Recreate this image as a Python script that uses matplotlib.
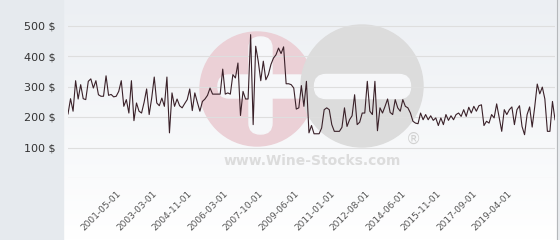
#Librerías
import numpy as np
import matplotlib.pyplot as plt
from matplotlib.patches import Circle, FancyBboxPatch, Rectangle

#Datos: precio por fecha
precios_1 = [210, 260, 219, 319, 259, 306, 260, 257, 317, 325, 295, 319, 273, 268,
             268, 335, 271, 274, 266, 268, 284, 319, 235, 257, 213, 319, 188, 246,
             219, 213, 248, 292, 208, 262, 331, 246, 237, 262, 235, 331, 148, 279,
             235, 259, 237, 230, 244, 257, 292, 221, 279, 248, 219, 251, 259, 271,
             295, 275, 275, 275, 275, 357, 275, 279, 275, 339, 328, 377, 205, 284,
             259, 259, 470, 175, 432, 383, 319, 383, 322, 339, 372, 393]
precios_2 = [404, 426, 408, 430, 309, 309, 306, 295, 226, 230, 303, 235, 317, 148,
             172, 145, 145, 145, 164, 224, 230, 224, 175, 153, 153, 153, 166, 230,
             169, 191, 204, 273, 175, 183, 213, 213, 317, 219, 208, 317, 155, 230,
             213, 235, 259, 215, 208, 257, 230, 219, 257, 235, 230, 213, 186, 180,
             178, 213, 191, 208, 191, 204, 189, 197, 172, 197, 175, 208, 189, 204,
             191, 208, 213, 202, 224, 202, 232, 213, 235, 219, 237, 240, 172, 186,
             180, 208, 197, 243, 197, 153, 224, 208, 224, 233, 175, 224, 237, 169,
             142, 208, 233, 167, 233, 308, 276, 298, 259, 153, 153, 251, 191]
precios = precios_1 + precios_2

fechas_etiquetas = ["2001-05-01", "2003-03-01", "2004-11-01", "2006-03-01",
                    "2007-10-01", "2009-06-01", "2011-01-01", "2012-08-01",
                    "2014-06-01", "2015-11-01", "2017-09-01", "2019-04-01"]
valores_y = [100, 200, 300, 400, 500]

#Definición de la figura
fig = plt.figure(figsize=(5.6, 2.4), dpi=100)

#Fondo en coordenadas de píxel
fondo = fig.add_axes([0, 0, 1, 1], zorder=0)
fondo.set_xlim(0, 560)
fondo.set_ylim(240, 0)
fondo.axis("off")
degradado = np.linspace(0, 1, 240).reshape(-1, 1)
fondo.imshow(degradado, extent=[0, 560, 240, 0], aspect="auto",
             cmap=plt.matplotlib.colors.LinearSegmentedColormap.from_list(
                 "g", ["#eceff3", "#ffffff"]))
fondo.add_patch(Rectangle((0, 0), 63, 240, color="#e6eaee"))
fondo.add_patch(Rectangle((557, 0), 3, 240, color="#e9ecef"))
fondo.plot([557, 557], [0, 240], color="#b5b8bb", lw=0.8)

#Marca de agua
claro = "#f6f7f9"
fondo.add_patch(Circle((257, 89), 57, color="#ebd0d6"))
fondo.add_patch(FancyBboxPatch((260, 48), 1, 75, boxstyle="round,pad=11",
                               color=claro))
fondo.add_patch(FancyBboxPatch((229, 86), 70, 1, boxstyle="round,pad=11",
                               color=claro))
fondo.add_patch(Circle((362, 86), 61, color="#dcdcdc"))
fondo.add_patch(FancyBboxPatch((326, 86), 73, 1, boxstyle="round,pad=11.5",
                               color=claro))
fondo.text(312, 161, "www.Wine-Stocks.com", color="#dcdcdc", fontsize=10,
           fontweight="bold", ha="center", va="center")
fondo.text(413, 139, "®", color="#d2d2d2", fontsize=11, ha="center", va="center")

#Gráfico principal
ax = fig.add_axes([68 / 560, 62 / 240, 487 / 560, 158.6 / 240], zorder=1)
ax.set_facecolor("none")
x = np.arange(len(precios))
ax.plot(x, precios, color="#3a2129", linewidth=0.8, zorder=3)

ax.set_xlim(0, len(precios) - 1)
ax.set_ylim(0, 520)

#Ejes
ax.set_yticks(valores_y)
ax.set_yticklabels(["{} $".format(v) for v in valores_y])
ax.tick_params(axis="y", length=0, pad=9, labelsize=8, labelcolor="#333333")
pos = np.linspace(0.1, 0.903, len(fechas_etiquetas)) * (len(precios) - 1)
ax.set_xticks(pos)
ax.set_xticklabels(fechas_etiquetas, rotation=45, ha="right",
                   rotation_mode="anchor")
ax.tick_params(axis="x", length=0, pad=8, labelsize=6.5, labelcolor="#555555")

#Cuadrícula
for v in [0] + valores_y:
    ax.axhline(v, color="#dedede", linewidth=0.8, zorder=1)
for s in ax.spines.values():
    s.set_visible(False)

plt.savefig("out.png", dpi=100)
